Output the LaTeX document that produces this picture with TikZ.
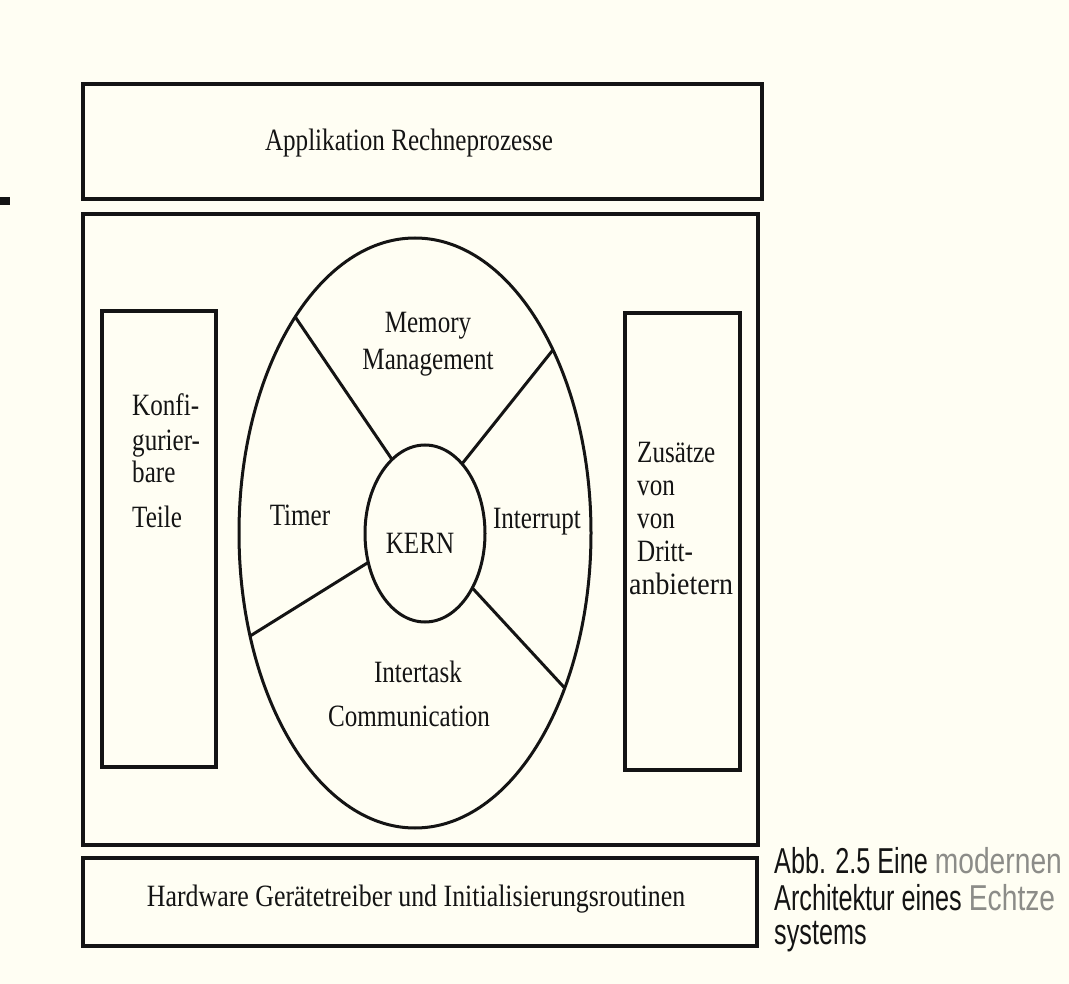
\documentclass[tikz,border=0pt]{standalone}
\usepackage{fontspec}
\setmainfont{Liberation Serif}
\newfontfamily\capfont{Liberation Sans}
\usetikzlibrary{shapes.geometric}
\definecolor{paper}{RGB}{255,254,243}
\definecolor{ink}{RGB}{20,20,20}
\definecolor{faded}{RGB}{140,140,136}
\newcommand{\sqz}[1]{\scalebox{0.81}[1]{#1}}
\newcommand{\capsq}[1]{\scalebox{0.70}[1]{#1}}
\newcommand{\fadedw}[1]{\textcolor{faded}{\scalebox{1.12}[1]{#1}}}
\begin{document}
\begin{tikzpicture}[x=1pt,y=-1pt,
  box/.style={draw=ink, line width=3.5pt, inner sep=0pt, outer sep=0pt},
  oval/.style={draw=ink, line width=3pt, ellipse, inner sep=0pt, outer sep=0pt},
  spoke/.style={draw=ink, line width=3pt},
  lbl/.style={font=\fontsize{31}{36}\selectfont, inner sep=0pt, text=ink, anchor=base},
  lbll/.style={lbl, anchor=base west},
  captxt/.style={font=\capfont\fontsize{36}{36}\selectfont, inner sep=0pt, anchor=base west, text=ink}]
\useasboundingbox (0,0) rectangle (1069,984);
\fill[paper] (0,0) rectangle (1069,984);
\clip (0,0) rectangle (1069,984);

% margin mark
\fill[ink] (0,197) rectangle (10,205);

% boxes
\node[box, minimum width=679pt, minimum height=115pt] (app) at (422.5,141.5) {};
\node[box, minimum width=675pt, minimum height=631pt] (mid) at (420.5,529.5) {};
\node[box, minimum width=674pt, minimum height=88pt] (hw) at (420,902) {};
\node[box, minimum width=114pt, minimum height=456pt] (konf) at (159,539) {};
\node[box, minimum width=115pt, minimum height=457pt] (zus) at (682.5,541.5) {};

% ellipses
\node[oval, minimum width=352pt, minimum height=590pt] (outer) at (415,533) {};
\node[oval, minimum width=120pt, minimum height=177pt] (kern) at (425,533.5) {};

% spokes
\draw[spoke] (kern.114) -- (outer.119.3);
\draw[spoke] (kern.62.5) -- (outer.53);
\draw[spoke] (kern.207) -- (outer.212.8);
\draw[spoke] (kern.311) -- (outer.314.8);

% labels
\node[lbl] (tapp) at (409,151) {\sqz{Applikation Rechneprozesse}};
\node[lbl] (thw) at (416,906) {\scalebox{0.835}[1]{Hardware Gerätetreiber und Initialisierungsroutinen}};
\node[lbl] (tmem1) at (428,333) {\sqz{Memory}};
\node[lbl] (tmem2) at (428,370) {\sqz{Management}};
\node[lbl] (ttim) at (300,525) {\sqz{Timer}};
\node[lbl] (tkern) at (420,553) {\sqz{KERN}};
\node[lbl] (tint) at (537,528) {\sqz{Interrupt}};
\node[lbl] (titc1) at (418,682) {\sqz{Intertask}};
\node[lbl] (titc2) at (409,726) {\sqz{Communication}};

\node[lbll] (tk1) at (132,416) {\sqz{Konfi-}};
\node[lbll] (tk2) at (132,450) {\sqz{gurier-}};
\node[lbll] (tk3) at (132,482) {\sqz{bare}};
\node[lbll] (tk4) at (132,527) {\sqz{Teile}};

\node[lbll] (tz1) at (637,462) {\sqz{Zusätze}};
\node[lbll] (tz2) at (637,495) {\sqz{von}};
\node[lbll] (tz3) at (637,528) {\sqz{von}};
\node[lbll] (tz4) at (637,561) {\sqz{Dritt-}};
\node[lbll] (tz5) at (629,594) {\scalebox{0.9}[1]{anbietern}};

% caption
\node[captxt] (c1) at (774,873) {\capsq{Abb. 2.5 Eine \fadedw{modernen}}};
\node[captxt] (c2) at (774,910) {\capsq{Architektur eines \fadedw{Echtze}}};
\node[captxt] (c3) at (774,944) {\capsq{systems}};
\end{tikzpicture}
\end{document}
